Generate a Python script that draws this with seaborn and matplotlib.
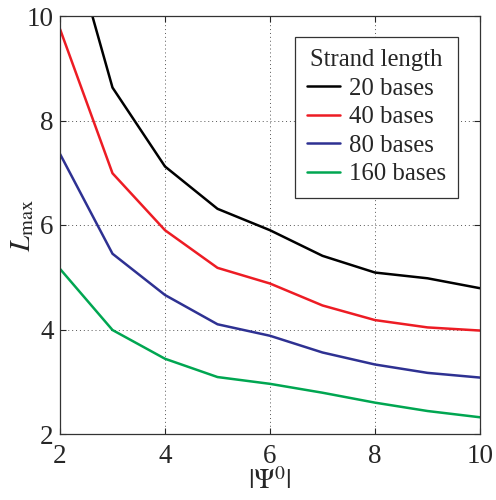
import numpy as np
import pandas as pd
import matplotlib
matplotlib.use("Agg")
import matplotlib.pyplot as plt
import seaborn as sns

psi = [2, 3, 4, 5, 6, 7, 8, 9, 10]
l_20 = [12.2, 8.63, 7.12, 6.31, 5.90, 5.41, 5.09, 4.98, 4.79]
l_40 = [9.75, 6.99, 5.90, 5.18, 4.88, 4.46, 4.18, 4.04, 3.98]
l_80 = [7.36, 5.45, 4.66, 4.10, 3.88, 3.56, 3.33, 3.17, 3.08]
l_160 = [5.16, 3.99, 3.44, 3.09, 2.96, 2.79, 2.60, 2.44, 2.32]
labels = ["20 bases", "40 bases", "80 bases", "160 bases"]
colors = ["#000000", "#ed1c24", "#2e3192", "#00a651"]
xticks = [2, 4, 6, 8, 10]
yticks = [2, 4, 6, 8, 10]

frames = []
for lab, vals in zip(labels, [l_20, l_40, l_80, l_160]):
    frames.append(pd.DataFrame({"psi": psi, "L": vals, "Strand length": lab}))
df = pd.concat(frames, ignore_index=True)

sns.set_style("white")
plt.rcParams["font.family"] = ["Liberation Serif", "DejaVu Serif"]
plt.rcParams["mathtext.fontset"] = "stix"

fig = plt.figure(figsize=(4.96, 5.0), dpi=100)
ax = fig.add_axes([60/496, 1-434/500, 420/496, 418/500])

sns.lineplot(data=df, x="psi", y="L", hue="Strand length",
             palette=dict(zip(labels, colors)), hue_order=labels,
             linewidth=1.8, ax=ax, legend=True)

ax.set_xlim(2, 10)
ax.set_ylim(2, 10)
ax.set_xticks(xticks)
ax.set_yticks(yticks)
ax.grid(True, linestyle=(0, (1, 3)), color="#555555", linewidth=0.7)
ax.tick_params(direction="in", length=4, width=0.8, labelsize=19.5,
               top=True, right=True, bottom=True, left=True)
ax.tick_params(axis="x", pad=7)
ax.tick_params(axis="y", pad=4.5)
for s in ax.spines.values():
    s.set_color("#333333")
    s.set_linewidth(0.9)

ax.set_xlabel(r"$|\Psi^0|$", fontsize=20)
ax.set_ylabel(r"$L_{\mathrm{max}}$", fontsize=21)
ax.xaxis.set_label_coords(0.5, (434-468)/418)
ax.yaxis.set_label_coords((36-60)/420, 0.5)

leg = ax.legend(title="Strand length", loc="upper right",
                bbox_to_anchor=((458-60)/420, (434-37)/418), borderaxespad=0,
                fontsize=17.8, title_fontsize=17.8, frameon=True, fancybox=False,
                handlelength=1.3, handletextpad=0.36, borderpad=0.5,
                labelspacing=0.25)
leg.get_frame().set_edgecolor("#333333")
leg.get_frame().set_linewidth(0.9)
leg.get_frame().set_alpha(1)
for line in leg.get_lines():
    line.set_linewidth(1.8)

fig.savefig("out.png", dpi=100)
